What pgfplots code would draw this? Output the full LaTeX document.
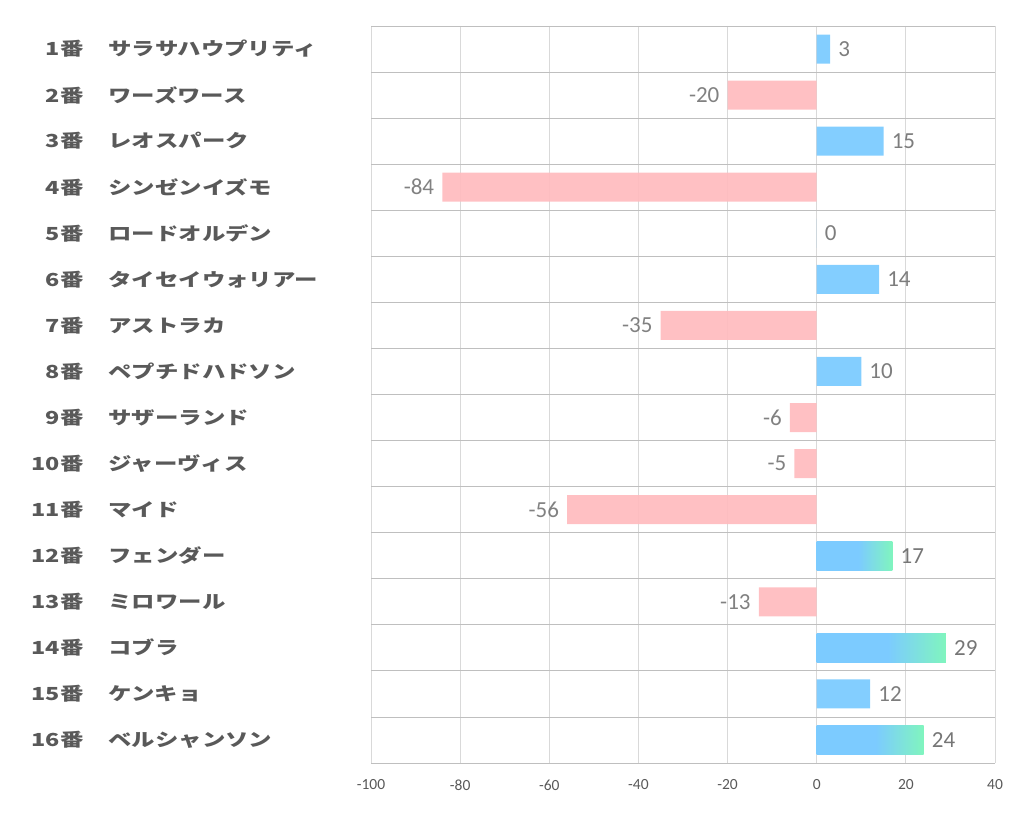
\documentclass[border=0pt]{standalone}
\usepackage{pgfplots}
\pgfplotsset{compat=1.18}
\usepackage{fontspec}
\setmainfont{Carlito}
\newfontfamily\jp{Noto Sans CJK JP}
\usepackage{graphicx}
\definecolor{barblue}{HTML}{7CCBFF}
\definecolor{bargreen}{HTML}{80F5BE}
\definecolor{barpink}{HTML}{FFBBBE}
\definecolor{lblgray}{HTML}{595959}
\definecolor{valgray}{HTML}{767676}
\definecolor{hgrid}{HTML}{BFBFBF}
\definecolor{vgrid}{HTML}{D9D9D9}
\pgfdeclarehorizontalshading{bluegreen}{100bp}{color(0bp)=(barblue); color(25bp)=(barblue); color(52.5bp)=(barblue); color(75bp)=(bargreen); color(100bp)=(bargreen)}
\newcommand\lbl[2]{\makebox[50pt][r]{\scalebox{1.3}[1]{#1番}}\hspace{25pt}\makebox[258pt][l]{\scalebox{1.3}[1]{#2}}}
\pgfplotstableread{
y x
2 -20
4 -84
7 -35
9 -6
10 -5
11 -56
13 -13
}\negdata
\pgfplotstableread{
y x
1 3
3 15
5 0
6 14
8 10
15 12
}\posdata
\pgfplotstableread{
y x
12 17
}\gradA
\pgfplotstableread{
y x
14 29
}\gradB
\pgfplotstableread{
y x
16 24
}\gradC
\begin{document}
\begin{tikzpicture}
\path[use as bounding box] (0pt,0pt) rectangle (1022pt,834pt);
\begin{axis}[
  at={(371pt,71pt)}, anchor=south west,
  scale only axis, width=624pt, height=737pt,
  xmin=-100, xmax=40, ymin=0.5, ymax=16.5,
  y dir=reverse,
  axis line style={draw=none},
  xtick={-100,-80,...,40},
  ytick={1,...,16},
  minor ytick={0.5,1.5,...,16.5},
  yminorgrids=true,
  minor grid style={hgrid, line width=0.8pt},
  xmajorgrids=true,
  major grid style={vgrid, line width=0.8pt},
  tick style={draw=none},
  minor tick length=0pt,
  /pgf/number format/assume math mode=true,
  xticklabel style={font=\fontsize{15.5}{18}\selectfont, text=lblgray, yshift=-13pt},
  yticklabel style={font=\jp\bfseries\fontsize{18}{22}\selectfont, text=lblgray, inner sep=0pt, anchor=east},
  yticklabels={\lbl{1}{サラサハウプリティ},\lbl{2}{ワーズワース},\lbl{3}{レオスパーク},\lbl{4}{シンゼンイズモ},\lbl{5}{ロードオルデン},\lbl{6}{タイセイウォリアー},\lbl{7}{アストラカ},\lbl{8}{ペプチドハドソン},\lbl{9}{サザーランド},\lbl{10}{ジャーヴィス},\lbl{11}{マイド},\lbl{12}{フェンダー},\lbl{13}{ミロワール},\lbl{14}{コブラ},\lbl{15}{ケンキョ},\lbl{16}{ベルシャンソン}},
  xbar, bar width=29pt, bar shift=0pt,
  point meta=x,
  nodes near coords={\pgfmathprintnumber{\pgfplotspointmeta}},
  nodes near coords align={horizontal},
  every node near coord/.append style={font=\fontsize{23}{27}\selectfont, text=valgray, inner xsep=8pt},
]
\addplot[draw=none, fill=barpink, fill opacity=0.92] table[x=x,y=y] {\negdata};
\addplot[draw=none, fill=barblue, fill opacity=0.95] table[x=x,y=y] {\posdata};
\addplot[draw=none, shading=bluegreen, shade] table[x=x,y=y] {\gradA};
\addplot[draw=none, shading=bluegreen, shade] table[x=x,y=y] {\gradB};
\addplot[draw=none, shading=bluegreen, shade] table[x=x,y=y] {\gradC};
\end{axis}
\end{tikzpicture}
\end{document}
